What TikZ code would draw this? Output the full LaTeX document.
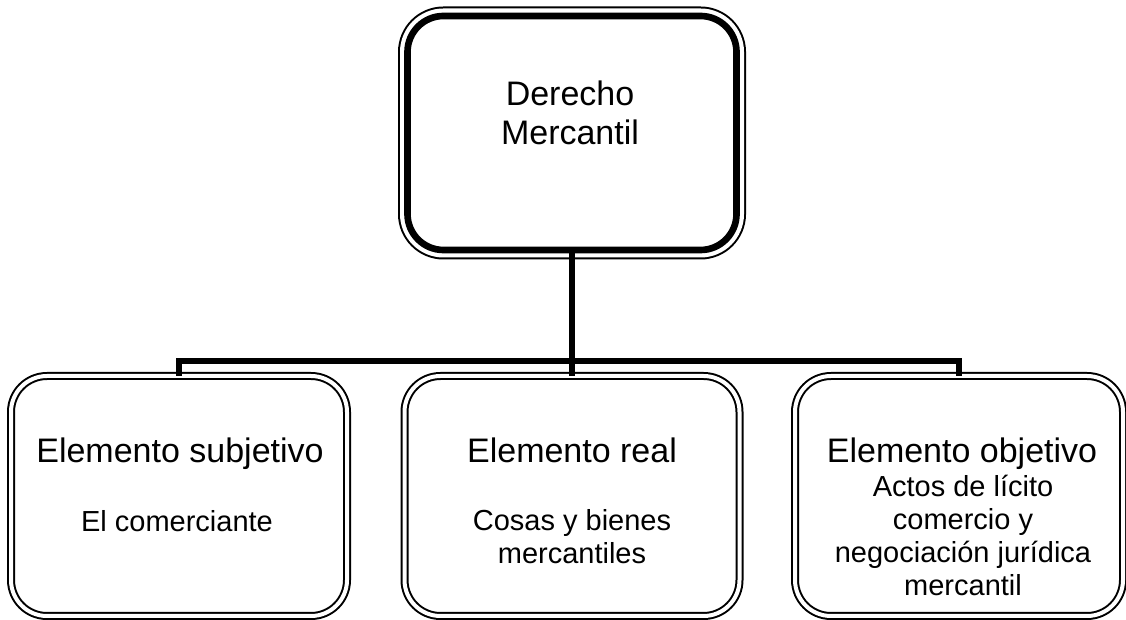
\documentclass[tikz,border=0pt]{standalone}
\usepackage{fontspec}
\newfontfamily\boxfont{Liberation Sans}

\begin{document}
\begin{tikzpicture}[x=0.75pt,y=0.75pt,line join=miter,
  frame/.style={draw,line width=1.5pt,double,double distance=3pt,rounded corners=27pt,outer sep=0pt,inner sep=0pt},
  mainframe/.style={draw,fill=white,line width=5pt,rounded corners=27pt,outer sep=0pt,inner sep=0pt,
    preaction={draw,line width=1.5pt,double,double distance=11.25pt}},
  link/.style={line width=4.5pt},
  title/.style={font=\boxfont\fontsize{25.5pt}{29.25pt}\selectfont,inner sep=0pt,align=center},
  desc/.style={font=\boxfont\fontsize{21.75pt}{24.75pt}\selectfont,inner sep=0pt,align=center}]
\useasboundingbox (0,0) rectangle (1126,620);
% boxes
\node[mainframe,minimum width=246.75pt,minimum height=175.5pt] (top) at (572,487) {};
\node[frame,minimum width=252pt,minimum height=180pt] (subj) at (179,124) {};
\node[frame,minimum width=251.25pt,minimum height=180pt] (real) at (572,124) {};
\node[frame,minimum width=246pt,minimum height=180pt] (obj) at (959,124) {};
% texts
\node[title,anchor=north] (topT) at (570,539.3) {Derecho\\Mercantil};
\node[title,anchor=base] (subjT) at (180,157) {Elemento subjetivo};
\node[desc,anchor=north] (subjD) at (177,110) {El comerciante};
\node[title,anchor=base] (realT) at (572,157) {Elemento real};
\node[desc,anchor=north] (realD) at (572,110.4) {Cosas y bienes\\mercantiles};
\node[title,anchor=base] (objT) at (962,157) {Elemento objetivo};
\node[desc,anchor=north] (objD) at (963,145) {Actos de lícito\\comercio y\\negociación jurídica\\mercantil};
% connectors
\coordinate (bus) at (572,259);
\draw[link] (top.south) -- (bus);
\draw[link] (subj.north) |- (bus) -| (obj.north);
\draw[link] (bus) -- (real.north);
\end{tikzpicture}
\end{document}
